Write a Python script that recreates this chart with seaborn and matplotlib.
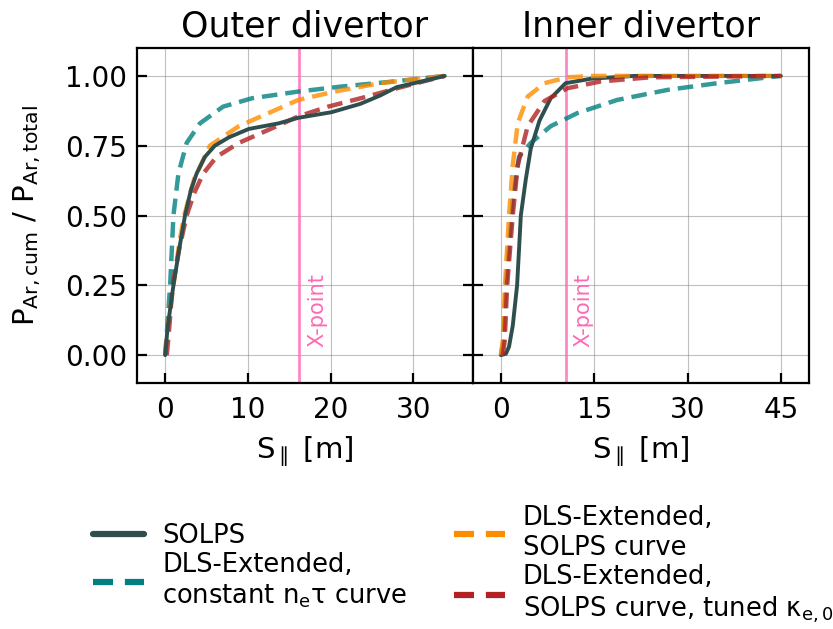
import matplotlib
matplotlib.use("Agg")
import matplotlib.pyplot as plt
from matplotlib.lines import Line2D
import seaborn as sns

# outer divertor, cumulative Ar radiation vs S_par [m]
outer_solps_s = [0.0, 0.3, 1.0, 1.7, 2.4, 3.1, 3.8, 4.8, 6.0, 7.7, 10.1, 13.7, 16.1, 20.1, 23.6, 26.0, 28.0, 31.0, 33.8]
outer_solps_p = [0.0, 0.10, 0.25, 0.38, 0.50, 0.59, 0.65, 0.71, 0.75, 0.78, 0.81, 0.83, 0.85, 0.87, 0.90, 0.93, 0.96, 0.98, 1.0]
outer_const_s = [0.0, 0.3, 0.6, 1.0, 1.6, 2.6, 4.2, 7.0, 10.5, 16.1, 21.3, 27.6, 33.8]
outer_const_p = [0.0, 0.12, 0.25, 0.50, 0.65, 0.76, 0.83, 0.89, 0.92, 0.944, 0.962, 0.98, 1.0]
outer_curve_s = [0.0, 0.3, 1.0, 1.7, 2.3, 3.5, 5.4, 8.9, 12.5, 16.1, 20.5, 26.0, 33.8]
outer_curve_p = [0.0, 0.10, 0.25, 0.40, 0.50, 0.63, 0.75, 0.82, 0.867, 0.914, 0.944, 0.974, 1.0]
outer_tuned_s = [0.2, 0.5, 0.9, 1.7, 2.6, 3.5, 4.6, 6.2, 8.9, 12.5, 16.1, 19.7, 24.4, 28.8, 33.8]
outer_tuned_p = [0.0, 0.10, 0.25, 0.38, 0.50, 0.58, 0.65, 0.71, 0.76, 0.807, 0.855, 0.89, 0.926, 0.962, 1.0]

# inner divertor
inner_solps_s = [0.0, 0.8, 1.3, 1.9, 2.6, 3.2, 4.0, 4.8, 6.2, 8.0, 10.4, 14.5, 21.4, 30.0, 45.0]
inner_solps_p = [0.0, 0.005, 0.03, 0.105, 0.25, 0.50, 0.63, 0.74, 0.84, 0.92, 0.974, 0.99, 1.0, 1.0, 1.0]
inner_const_s = [0.0, 0.4, 0.8, 1.9, 2.9, 4.8, 8.0, 12.3, 18.7, 26.8, 34.8, 45.0]
inner_const_p = [0.0, 0.05, 0.25, 0.56, 0.71, 0.76, 0.82, 0.867, 0.914, 0.95, 0.974, 1.0]
inner_curve_s = [0.0, 0.3, 0.65, 1.3, 1.9, 2.7, 4.3, 7.0, 10.7, 15.0, 30.0, 45.0]
inner_curve_p = [0.0, 0.05, 0.25, 0.50, 0.68, 0.83, 0.926, 0.974, 0.995, 1.0, 1.0, 1.0]
inner_tuned_s = [0.3, 0.6, 1.0, 1.9, 2.7, 4.3, 7.0, 10.7, 16.0, 24.0, 45.0]
inner_tuned_p = [0.0, 0.05, 0.25, 0.50, 0.68, 0.82, 0.91, 0.956, 0.98, 0.995, 1.0]

xpoint_outer = 16.2
xpoint_inner = 10.4

labels = ["SOLPS", "DLS-Extended,\nconstant $n_e\\tau$ curve",
          "DLS-Extended,\nSOLPS curve", "DLS-Extended,\nSOLPS curve, tuned $\\kappa_{e,0}$"]
colors = ["darkslategray", "teal", "darkorange", "firebrick"]

sns.set_style("ticks")
plt.rcParams["font.family"] = ["DejaVu Sans"]
plt.rcParams["mathtext.default"] = "regular"
plt.rcParams["text.color"] = "black"
plt.rcParams["axes.labelcolor"] = "black"
plt.rcParams["xtick.color"] = "black"
plt.rcParams["ytick.color"] = "black"

fig, axes = plt.subplots(1, 2, figsize=(8.33, 6.29), dpi=100)
fig.subplots_adjust(left=0.1645, right=0.971, top=0.9237, bottom=0.391, wspace=0)

panels = [
    (axes[0], "Outer divertor", xpoint_outer,
     [(outer_solps_s, outer_solps_p), (outer_const_s, outer_const_p),
      (outer_curve_s, outer_curve_p), (outer_tuned_s, outer_tuned_p)],
     [0, 10, 20, 30], (-3.4, 37.2), 1.0),
    (axes[1], "Inner divertor", xpoint_inner,
     [(inner_solps_s, inner_solps_p), (inner_const_s, inner_const_p),
      (inner_curve_s, inner_curve_p), (inner_tuned_s, inner_tuned_p)],
     [0, 15, 30, 45], (-4.5, 49.5), 1.3),
]

for ax, title, xp, series, xt, xl, toff in panels:
    ax.grid(True, color="gray", alpha=0.5, lw=0.8)
    ax.axvline(xp, color="hotpink", alpha=0.8, lw=2)
    ax.text(xp + toff, 0.03, "X-point", rotation=90, color="hotpink",
            fontsize=15, ha="left", va="bottom")
    # dashed first, SOLPS drawn where it sits in the reference stacking
    order = [1, 2, 3, 0] if ax is axes[0] else [1, 0, 2, 3]
    for i in order:
        s, p = series[i]
        if i == 0:
            sns.lineplot(x=s, y=p, ax=ax, color=colors[i], lw=2.8, label=labels[i])
        else:
            sns.lineplot(x=s, y=p, ax=ax, color=colors[i], lw=3.2, alpha=0.8,
                         dashes=(3.5, 1.8), label=labels[i])
    ax.set_title(title, fontsize=25, pad=8)
    ax.set_xticks(xt)
    ax.set_xlim(*xl)
    ax.set_ylim(-0.1, 1.1)
    ax.set_yticks([0, 0.25, 0.5, 0.75, 1.0])
    ax.set_xlabel("S$_\\parallel$ [m]", fontsize=21, labelpad=8)
    ax.tick_params(direction="in", length=7, width=1.6, labelsize=20)
    ax.tick_params(axis="x", pad=9)
    ax.tick_params(axis="y", pad=7)
    for sp in ax.spines.values():
        sp.set_linewidth(1.6)
        sp.set_visible(True)
        sp.set_color("black")
    ax.get_legend().remove()

axes[0].set_yticklabels(["0.00", "0.25", "0.50", "0.75", "1.00"])
axes[0].tick_params(right=True)
axes[1].set_yticklabels([])
axes[0].set_ylabel("$P_{Ar, cum}$ / $P_{Ar, total}$", fontsize=21, labelpad=16)

dash = (0, (3.2, 1.9))
leg_handles = [Line2D([], [], color=colors[0], lw=4.5),
               Line2D([], [], color=colors[1], lw=4.5, ls=dash),
               Line2D([], [], color=colors[2], lw=4.5, ls=dash),
               Line2D([], [], color=colors[3], lw=4.5, ls=dash)]
fig.legend(leg_handles, labels, loc="upper center", bbox_to_anchor=(0.556, 0.222),
           ncol=2, frameon=False, fontsize=18.5, handlelength=2.0,
           handletextpad=0.7, columnspacing=1.8, labelspacing=0.12,
           borderpad=0.1)

fig.savefig("out.png", dpi=100)
